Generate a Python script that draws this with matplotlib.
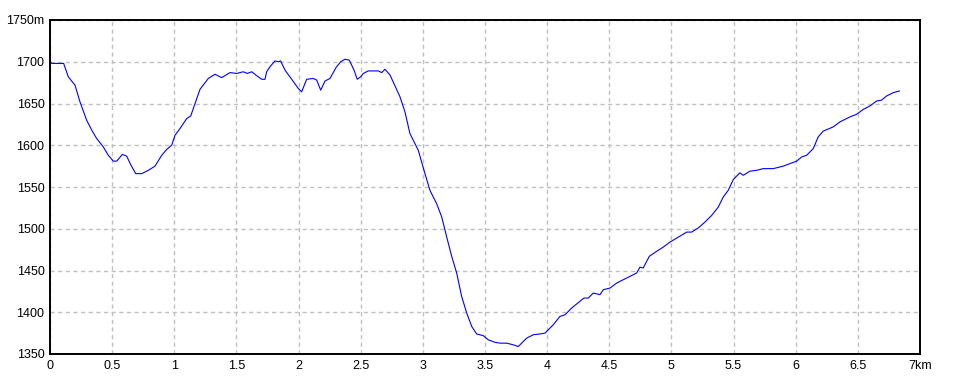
import matplotlib
matplotlib.use('Agg')
import matplotlib.pyplot as plt
from matplotlib.ticker import FuncFormatter, MultipleLocator

# 距離 (km) と標高 (m)
dist_km = [0.000, 0.016, 0.110, 0.147, 0.201, 0.241, 0.295, 0.336, 0.376, 0.429,
           0.469, 0.509, 0.537, 0.582, 0.617, 0.652, 0.690, 0.738, 0.791, 0.845,
           0.899, 0.939, 0.979, 1.006, 1.046, 1.100, 1.132, 1.167, 1.207, 1.274,
           1.328, 1.381, 1.448, 1.502, 1.555, 1.587, 1.623, 1.657, 1.703, 1.730,
           1.743, 1.770, 1.810, 1.837, 1.856, 1.891, 1.945, 1.998, 2.025, 2.065,
           2.118, 2.146, 2.178, 2.213, 2.253, 2.301, 2.339, 2.373, 2.408, 2.446,
           2.472, 2.500, 2.521, 2.561, 2.641, 2.669, 2.695, 2.736, 2.816, 2.856,
           2.896, 2.963, 3.017, 3.057, 3.111, 3.152, 3.192, 3.232, 3.272, 3.312,
           3.353, 3.393, 3.433, 3.486, 3.526, 3.580, 3.621, 3.674, 3.728, 3.768,
           3.835, 3.888, 3.942, 3.983, 4.049, 4.103, 4.144, 4.197, 4.238, 4.296,
           4.331, 4.371, 4.425, 4.452, 4.506, 4.560, 4.613, 4.653, 4.693, 4.720,
           4.747, 4.773, 4.822, 4.881, 4.934, 4.988, 5.055, 5.123, 5.163, 5.216,
           5.270, 5.324, 5.377, 5.417, 5.457, 5.498, 5.551, 5.578, 5.632, 5.686,
           5.739, 5.819, 5.900, 5.954, 6.008, 6.048, 6.088, 6.141, 6.181, 6.222,
           6.302, 6.356, 6.437, 6.489, 6.544, 6.597, 6.651, 6.691, 6.731, 6.785,
           6.834]
elev_m = [1700, 1698, 1698, 1682, 1672, 1652, 1630, 1618, 1608, 1598,
          1588, 1581, 1581, 1589, 1587, 1576, 1566, 1566, 1570, 1575,
          1588, 1595, 1600, 1612, 1620, 1632, 1635, 1650, 1667, 1680,
          1685, 1681, 1687, 1686, 1688, 1686, 1688, 1684, 1679, 1679,
          1688, 1694, 1701, 1700, 1701, 1690, 1679, 1668, 1664, 1679,
          1680, 1678, 1666, 1677, 1680, 1693, 1700, 1703, 1702, 1690,
          1679, 1682, 1686, 1689, 1689, 1687, 1691, 1684, 1658, 1640,
          1614, 1594, 1566, 1546, 1530, 1514, 1490, 1467, 1447, 1419,
          1399, 1383, 1374, 1372, 1367, 1364, 1363, 1363, 1361, 1359,
          1369, 1373, 1374, 1375, 1385, 1395, 1397, 1405, 1410, 1417,
          1417, 1423, 1421, 1427, 1429, 1435, 1439, 1442, 1445, 1447,
          1454, 1453, 1467, 1473, 1478, 1484, 1490, 1496, 1496, 1501,
          1508, 1516, 1526, 1538, 1546, 1559, 1567, 1564, 1569, 1570,
          1572, 1572, 1575, 1578, 1581, 1586, 1588, 1596, 1610, 1617,
          1622, 1628, 1634, 1637, 1643, 1647, 1653, 1654, 1659, 1663,
          1665]

plt.rcParams['font.family'] = ['Liberation Sans', 'DejaVu Sans']

fig = plt.figure(figsize=(9.6, 3.84), dpi=100)
ax = fig.add_axes([50/960, 30/384, 870/960, 334/384])

ax.plot(dist_km, elev_m, color='#0000ff', linewidth=0.8)

ax.set_xlim(0, 7)
ax.set_ylim(1350, 1750)
ax.xaxis.set_major_locator(MultipleLocator(0.5))
ax.yaxis.set_major_locator(MultipleLocator(50))
ax.xaxis.set_major_formatter(FuncFormatter(
    lambda v, p: '7km' if abs(v - 7) < 1e-6 else f'{v:g}'))
ax.yaxis.set_major_formatter(FuncFormatter(
    lambda v, p: '1750m' if abs(v - 1750) < 1e-6 else f'{v:g}'))

ax.grid(True, color='#c0c0c0', linestyle=(0, (3, 2.5)), linewidth=1)
ax.tick_params(length=0, labelsize=9, pad=4)
for s in ax.spines.values():
    s.set_linewidth(1.4)
    s.set_color('black')

fig.savefig('out.png', dpi=100)
